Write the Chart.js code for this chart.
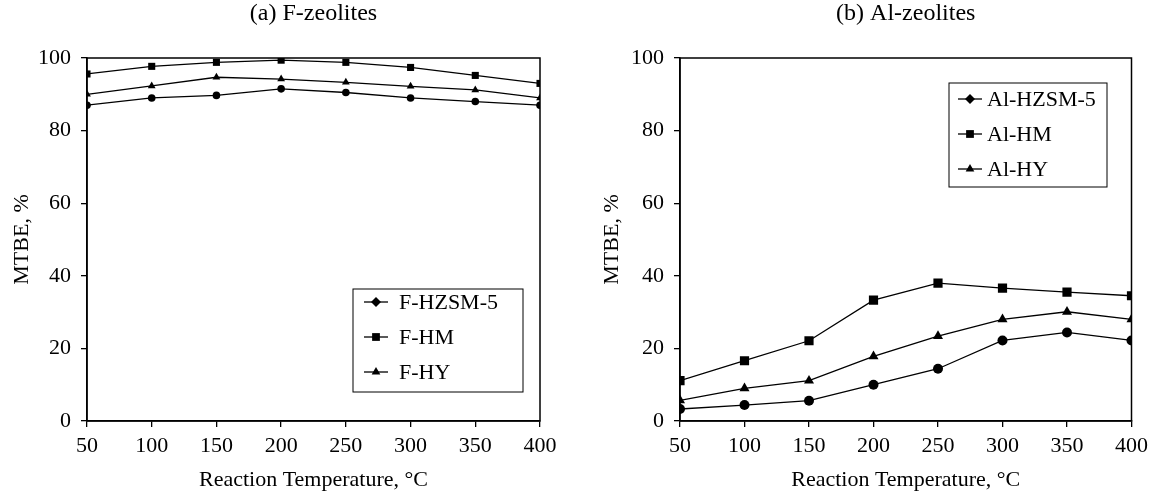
<!DOCTYPE html>
<html>
<head>
<meta charset="utf-8">
<script src="https://cdn.jsdelivr.net/npm/chart.js@4/dist/chart.umd.min.js"></script>
<style>
body { margin: 0; background: #fff; width: 1154px; height: 493px; overflow: hidden; }
.box { position: absolute; top: 0; width: 577px; height: 493px; }
</style>
</head>
<body>
<div class="box" style="left:0"><canvas id="chartF" width="577" height="493"></canvas></div>
<div class="box" style="left:577px"><canvas id="chartAl" width="577" height="493"></canvas></div>
<script>
// reaction temperature, °C
const temps = [50, 100, 150, 200, 250, 300, 350, 400];
const yTicks = [0, 20, 40, 60, 80, 100];

// (a) F-zeolites, MTBE %
const fHzsm5 = [87, 89, 89.7, 91.5, 90.5, 89, 88, 87];
const fHm = [95.6, 97.7, 98.8, 99.4, 98.8, 97.4, 95.2, 93];
const fHy = [90, 92.3, 94.7, 94.2, 93.3, 92.2, 91.2, 89];

// (b) Al-zeolites, MTBE %
const alHzsm5 = [3.3, 4.4, 5.6, 10, 14.4, 22.2, 24.4, 22.2];
const alHm = [11.1, 16.6, 22.1, 33.3, 38, 36.6, 35.5, 34.5];
const alHy = [5.7, 9, 11.1, 17.8, 23.4, 28, 30.1, 28];

const serif = '"Liberation Serif", "Times New Roman", serif';

function points(values) {
    return temps.map((t, i) => ({ x: t, y: values[i] }));
}

function series(label, values, style, radius, legendStyle) {
    return {
        label: label,
        data: points(values),
        borderColor: '#000',
        backgroundColor: '#000',
        borderWidth: 1.3,
        pointStyle: style,
        pointRadius: radius,
        pointBorderWidth: 0,
        legendStyle: legendStyle,
        tension: 0
    };
}

// box around plot, title on top, legend inside the plot
const framePlugin = {
    id: 'frame',
    afterDraw(chart, args, opts) {
        const ctx = chart.ctx;
        const a = chart.chartArea;
        const lg = opts.legend;
        ctx.save();
        ctx.strokeStyle = '#000';
        ctx.lineWidth = 1.5;
        ctx.strokeRect(a.left, a.top, a.right - a.left, a.bottom - a.top);

        ctx.fillStyle = '#000';
        ctx.font = '24px ' + serif;
        ctx.textAlign = 'center';
        ctx.textBaseline = 'middle';
        ctx.fillText(opts.title, (a.left + a.right) / 2, 14);

        const lx = a.left + lg.x;
        const ly = a.top + lg.y;
        ctx.lineWidth = 1;
        ctx.strokeRect(lx, ly, lg.w, lg.h);
        ctx.font = '22px ' + serif;
        ctx.textAlign = 'left';
        chart.data.datasets.forEach((ds, i) => {
            const y = ly + lg.first + i * 35;
            ctx.lineWidth = 1.3;
            ctx.beginPath();
            ctx.moveTo(lx + lg.line, y);
            ctx.lineTo(lx + lg.line + 24, y);
            ctx.stroke();
            ctx.fillStyle = '#000';
            Chart.helpers.drawPoint(ctx, {
                pointStyle: ds.legendStyle,
                radius: ds.legendStyle === 'rect' ? 5.5 : 5,
                rotation: 0,
                borderWidth: 0
            }, lx + lg.line + 12, y);
            ctx.fillText(ds.label, lx + lg.text, y + 1);
        });
        ctx.restore();
    }
};

function makeChart(id, datasets, opts) {
    new Chart(document.getElementById(id), {
        type: 'line',
        data: { datasets: datasets },
        plugins: [framePlugin],
        options: {
            responsive: false,
            animation: false,
            layout: { padding: { top: 58, right: opts.padRight, bottom: 0, left: 0 } },
            plugins: {
                legend: { display: false },
                tooltip: { enabled: false },
                frame: { title: opts.title, legend: opts.legend }
            },
            scales: {
                x: {
                    type: 'linear',
                    min: 50,
                    max: 400,
                    afterBuildTicks: s => { s.ticks = temps.map(v => ({ value: v })); },
                    afterFit: s => { s.height = 72; },
                    border: { display: true, color: '#000', width: 1.5 },
                    grid: { drawOnChartArea: false, color: '#000', tickLength: 6, lineWidth: 1.3 },
                    ticks: { color: '#000', font: { family: serif, size: 22 }, padding: 6, maxRotation: 0 },
                    title: {
                        display: true,
                        text: 'Reaction Temperature, °C',
                        color: '#000',
                        font: { family: serif, size: 22 },
                        padding: { top: 2, bottom: 0 }
                    }
                },
                y: {
                    min: 0,
                    max: 100,
                    afterBuildTicks: s => { s.ticks = yTicks.map(v => ({ value: v })); },
                    afterFit: s => { s.width = opts.yWidth; },
                    border: { display: true, color: '#000', width: 1.5 },
                    grid: { drawOnChartArea: false, color: '#000', tickLength: 6, lineWidth: 1.3 },
                    ticks: { color: '#000', font: { family: serif, size: 22 }, padding: 10 },
                    title: {
                        display: true,
                        text: 'MTBE, %',
                        color: '#000',
                        font: { family: serif, size: 22 },
                        padding: { top: opts.yTitlePad, bottom: 0 }
                    }
                }
            }
        }
    });
}

makeChart('chartF', [
    series('F-HZSM-5', fHzsm5, 'circle', 3.8, 'rectRot'),
    series('F-HM', fHm, 'rect', 5, 'rect'),
    series('F-HY', fHy, 'triangle', 4.5, 'triangle')
], {
    title: '(a) F-zeolites',
    padRight: 37,
    yWidth: 87,
    yTitlePad: 9,
    legend: { x: 266, y: 231, w: 170, h: 103, first: 13, line: 11, text: 46 }
});

makeChart('chartAl', [
    series('Al-HZSM-5', alHzsm5, 'circle', 5, 'rectRot'),
    series('Al-HM', alHm, 'rect', 6.5, 'rect'),
    series('Al-HY', alHy, 'triangle', 5.8, 'triangle')
], {
    title: '(b) Al-zeolites',
    padRight: 21,
    yWidth: 103,
    yTitlePad: 22,
    legend: { x: 269, y: 25, w: 158, h: 104, first: 16, line: 9, text: 38 }
});
</script>
</body>
</html>
